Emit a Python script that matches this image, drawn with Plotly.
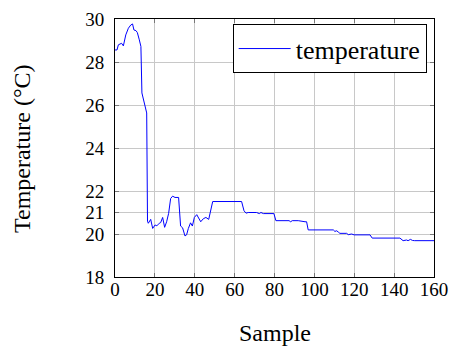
import plotly.graph_objects as go

sample = [0, 1, 1.7, 3.3, 4.2, 5.4, 6.7, 7.9, 8.8, 9.5, 10.5, 11.2, 12.2, 13, 13.5, 15, 15.9,
          16.3, 16.7, 17.9, 18.9, 20.1, 21.0, 22.2, 22.9, 23.9, 24.9, 25.9, 26.9, 27.9, 28.9,
          30.1, 31.9, 32.9, 33.9, 35.1, 35.9, 36.8, 37.9, 38.8, 39.8, 41, 41.8, 43, 44.3, 45.6,
          47, 48, 49, 63.5, 64.7, 65.7, 66.8, 71, 72.4, 73.2, 74.4, 79.7, 80.7, 87.3, 88.1,
          88.9, 91.9, 95.3, 96.1, 96.9, 109.5, 110.3, 111.2, 112, 112.8, 116.2, 117, 118.7,
          119.9, 127.9, 129, 142.9, 144.5, 146.2, 147, 148.2, 149.2, 150.3, 160]
temperature = [28.56, 28.56, 28.8, 28.87, 28.75, 29.26, 29.57, 29.72, 29.77, 29.49, 29.46, 29.37,
               29.03, 28.72, 26.56, 25.94, 25.63,
               20.6, 20.5, 20.68, 20.26, 20.42, 20.38, 20.5, 20.53, 20.77, 20.31, 20.57, 20.96,
               21.65, 21.76, 21.7, 21.7, 20.37, 20.29, 19.91, 19.96, 20.26, 20.52, 20.37, 20.77,
               20.9, 20.77, 20.57, 20.71, 20.77, 20.68, 21.14, 21.51, 21.51, 21.08, 20.97, 21.0,
               21.0, 20.95, 21.0, 20.95, 20.95, 20.62, 20.62, 20.57, 20.62, 20.62, 20.57, 20.57,
               20.19, 20.19, 20.12, 20.15, 20.09, 20.03, 20.03, 19.97, 20.0, 19.96, 19.96, 19.81,
               19.81, 19.69, 19.72, 19.69, 19.75, 19.7, 19.69, 19.69]
x_ticks = [0, 20, 40, 60, 80, 100, 120, 140, 160]
y_ticks = [18, 20, 21, 22, 24, 26, 28, 30]

font = "Liberation Serif"

fig = go.Figure()
fig.add_trace(go.Scatter(x=sample, y=temperature, mode="lines", name="temperature",
                         line=dict(color="#0000ff", width=1)))

axis_common = dict(showline=True, linecolor="black", linewidth=1, mirror="ticks",
                   showgrid=True, gridcolor="#c8c8c8", gridwidth=1,
                   ticks="inside", ticklen=4, tickcolor="#777777",
                   tickfont=dict(family=font, size=19, color="black"),
                   zeroline=False, automargin=False)

fig.update_layout(
    width=450, height=346,
    margin=dict(l=115, r=16, t=19, b=69),
    paper_bgcolor="white", plot_bgcolor="white",
    font=dict(family=font, color="black"),
    xaxis=dict(range=[0, 160], tickvals=x_ticks, ticktext=[str(v) for v in x_ticks],
               ticklabelstandoff=-5, **axis_common),
    yaxis=dict(range=[18, 30], tickvals=y_ticks, ticktext=[str(v) for v in y_ticks],
               ticklabelstandoff=6, **axis_common),
    showlegend=True,
    legend=dict(x=0.977, y=0.98, xanchor="right", yanchor="top",
                bordercolor="black", borderwidth=1, bgcolor="white",
                itemwidth=52, font=dict(family=font, size=26)),
    annotations=[
        dict(text="Sample", xref="paper", yref="paper", x=0.5, y=-56 / 258,
             xanchor="center", yanchor="middle", showarrow=False,
             font=dict(family=font, size=24)),
        dict(text="Temperature (°C)", xref="paper", yref="paper", x=-93 / 319, y=0.5,
             xanchor="center", yanchor="middle", showarrow=False, textangle=-90,
             font=dict(family=font, size=24)),
    ],
)

fig.write_html("out.html")
